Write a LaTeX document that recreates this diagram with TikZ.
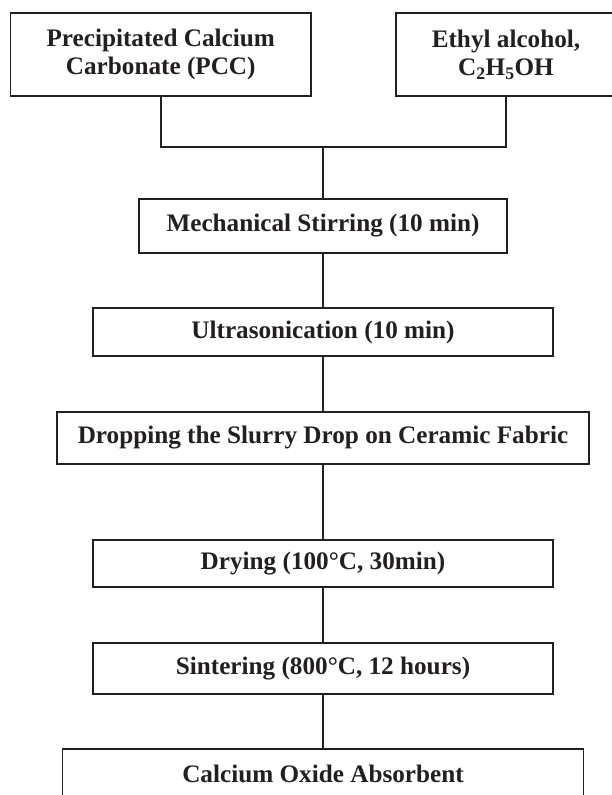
\documentclass[tikz,border=0pt]{standalone}
\usepackage{fontspec}
\setmainfont{Liberation Serif}
\usepackage{tikz}
\usetikzlibrary{positioning}
\definecolor{boxline}{HTML}{231F20}
\newcommand{\midx}{323}

\begin{document}
\begin{tikzpicture}[
    x=1pt, y=-1pt,
    every node/.style={font=\fontsize{25.2}{28}\selectfont\bfseries, align=center, text=boxline},
    stage/.style={draw=boxline, line width=1.5pt, inner sep=0pt, fill=white},
    feed/.style={stage, minimum height=83pt},
    flow/.style={draw=boxline, line width=1.5pt}
  ]
  \useasboundingbox (0,0) rectangle (612,795);

  % --- starting materials ------------------------------------------------
  \node[feed, minimum width=300.5pt] (pcc) at (160.75, 54.5) {Precipitated Calcium\\Carbonate (PCC)};
  \node[feed, minimum width=220pt]   (eth) at (506, 54.5) {Ethyl alcohol,\\C\textsubscript{2}H\textsubscript{5}OH};

  % --- process steps -----------------------------------------------------
  \node[stage, minimum width=368pt, minimum height=54pt] (stir)   at (\midx, 226)   {Mechanical Stirring (10 min)};
  \node[stage, minimum width=460pt, minimum height=48pt] (sonic)  at (\midx, 332)   {Ultrasonication (10 min)};
  \node[stage, minimum width=532pt, minimum height=52pt] (drop)   at (\midx, 438)   {Dropping the Slurry Drop on Ceramic Fabric};
  \node[stage, minimum width=460pt, minimum height=47pt] (dry)    at (\midx, 563.5) {Drying (100°C, 30min)};
  \node[stage, minimum width=460pt, minimum height=51pt] (sinter) at (\midx, 668.5) {Sintering (800°C, 12 hours)};
  \node[stage, minimum width=521pt, minimum height=50pt] (cao)    at (\midx, 774)   {Calcium Oxide Absorbent};

  % --- connectors --------------------------------------------------------
  \coordinate (mix) at (\midx, 147);
  \draw[flow] (pcc.south) |- (mix) -| (eth.south);
  \draw[flow] (mix) -- (stir.north);
  \foreach \a/\b in {stir/sonic, sonic/drop, drop/dry, dry/sinter, sinter/cao}
    {\draw[flow] (\a.south) -- (\b.north);}

\end{tikzpicture}
\end{document}
